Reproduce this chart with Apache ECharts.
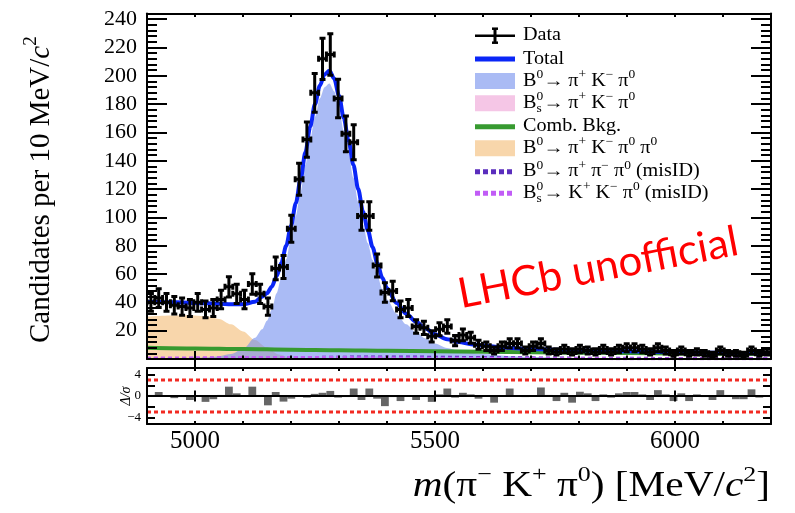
<!DOCTYPE html>
<html>
<head>
<meta charset="utf-8">
<script src="https://cdn.jsdelivr.net/npm/echarts@6/dist/echarts.min.js"></script>
<style>
  html, body { margin: 0; padding: 0; background: #fff; }
  #chart { width: 795px; height: 513px; }
</style>
</head>
<body>
<div id="chart"></div>
<script>
// ---- binning of the mass spectrum ----
const massRange = [4900, 6200];
const BIN_LO = 4900;
const BIN_W = 16.25;

// candidates per bin (80 bins)
const candidates = [
  40, 43, 40, 38, 37, 36, 40, 35, 36, 42,
  51, 46, 42, 53, 46, 37, 64, 65, 92, 127,
  155, 188, 212, 215, 184, 159, 153, 101, 101, 66,
  47, 48, 35, 36, 23, 22, 16, 21, 23, 13,
  17, 15, 10, 9, 6, 9, 11, 11, 6, 9,
  11, 6, 5, 7, 5, 7, 6, 5, 7, 5,
  7, 8, 8, 7, 5, 8, 6, 4, 6, 4,
  5, 4, 3, 6, 4, 4, 3, 6, 4, 5
];

// normalised residuals per bin
const pulls = [
  0.2, 0.75, 0.1, -0.4, -0.2, -0.75, -0.1, -1.1, -0.6, 0.2,
  1.75, 0.5, -0.1, 1.75, 0.2, -1.75, 0.75, -1.05, -0.5, 0.1,
  -0.3, 0.4, 0.6, 0.95, -0.3, -0.2, 1.4, -0.75, 1.4, -0.5,
  -1.9, -0.2, -0.95, 0.1, -0.75, -0.1, -1.1, 0.3, 1.4, -0.3,
  0.6, 0.3, -0.5, -0.1, -1.25, 0.1, 1.4, 0.1, -0.2, 0.1,
  1.6, 0.2, -0.95, 0.6, -1.25, 0.8, 0.5, -0.95, 0.3, -0.3,
  0.5, 0.75, 0.75, 0.3, -0.75, 1.1, 0.3, -0.95, 0.5, -0.95,
  0.3, -0.2, -0.75, 1.1, 0.2, -0.6, -0.6, 1.25, -0.3, 0.1
];

// ---- fit model, sampled along the mass axis ----
const fitMass = [
  4900, 4925, 4950, 4975, 5000, 5025, 5050, 5075, 5100, 5125,
  5140, 5150, 5160, 5170, 5180, 5190, 5200, 5210, 5220, 5230,
  5240, 5250, 5260, 5270, 5280, 5290, 5300, 5310, 5320, 5330,
  5340, 5350, 5360, 5370, 5380, 5390, 5400, 5420, 5440, 5460,
  5480, 5500, 5525, 5550, 5575, 5600, 5650, 5700, 5750, 5800,
  5900, 6000, 6100, 6200
];
const totalFit = [
  40.2, 40.2, 40.1, 39.9, 39.6, 39.3, 39.0, 38.6, 38.6, 40.5,
  44, 46.5, 51, 58.5, 68, 80, 94, 110, 127, 146,
  164, 180, 193, 201, 203.5, 198, 186, 170, 154, 137,
  120, 104, 91, 79, 67.5, 57.5, 50, 39.5, 32, 26.5,
  21.5, 17.5, 14, 12, 10.5, 9.5, 7.9, 7.1, 6.5, 6.0,
  5.4, 4.9, 4.4, 4.0
];
const b0SignalFit = [
  0.3, 0.4, 0.5, 0.6, 0.8, 1.1, 2.0, 3.5, 7, 15,
  21, 27, 35, 46.5, 57.5, 70.5, 85, 101, 118, 137,
  155, 171, 184, 192, 194.5, 189, 177, 161, 145, 128,
  111, 95, 82, 70, 59, 49.5, 42, 32, 24.5, 19,
  14.5, 11, 7.8, 5.8, 4.4, 3.5, 2.2, 1.4, 0.9, 0.6,
  0.3, 0.15, 0.1, 0.05
];

const bsMass = [5280, 5300, 5320, 5340, 5360, 5370, 5380, 5400, 5420, 5440, 5460, 5480];
const bsSignalFit = [0, 0.2, 0.6, 1.3, 1.9, 2.0, 1.9, 1.3, 0.7, 0.3, 0.1, 0];

const prcMass = [4900, 4925, 4950, 4975, 5000, 5025, 5050, 5075, 5100, 5125, 5150, 5175, 5200, 5225, 5250, 5300];
const prcFit = [30, 30.4, 30.7, 30.9, 30.8, 30.2, 28.3, 24.5, 19.5, 13.5, 8, 3.2, 0.9, 0.2, 0, 0];

const bkgMass = [4900, 5000, 5100, 5200, 5300, 5400, 5500, 5600, 5700, 5800, 5900, 6000, 6100, 6200];
const combFit = [8.0, 7.5, 7.05, 6.6, 6.2, 5.8, 5.45, 5.1, 4.8, 4.5, 4.2, 3.95, 3.7, 3.5];
const misPiPiFit = [0.3, 0.4, 0.6, 0.9, 1.3, 1.5, 1.3, 1.0, 0.8, 0.6, 0.5, 0.4, 0.35, 0.3];
const misKKFit = [0.6, 0.8, 1.0, 1.1, 1.0, 0.8, 0.6, 0.45, 0.35, 0.3, 0.25, 0.2, 0.2, 0.15];

// ---- axis ticks ----
const massTicks = [5000, 5500, 6000];
const countTicks = [20, 40, 60, 80, 100, 120, 140, 160, 180, 200, 220, 240];
const pullTicks = [-4, -2, 0, 2, 4];
const pullLabels = [-4, 0, 4];
const pullBands = [3, -3];

// ---- colours ----
const C = {
  total: '#0a26f7',
  b0: 'rgba(113,142,238,0.6)',
  b0Key: '#aabbf4',
  bs: '#f5c6e6',
  comb: '#379a30',
  prc: '#f8d6ab',
  misPiPi: '#5a2dbd',
  misKK: '#c15cf6',
  pull: '#666666',
  band: '#f22a22'
};

const SERIF = '"Liberation Serif", "DejaVu Serif", serif';
const measureCtx = document.createElement('canvas').getContext('2d');
function textWidth(str, size, italic) {
  measureCtx.font = (italic ? 'italic ' : '') + size + 'px ' + SERIF;
  return measureCtx.measureText(str).width;
}

// Lays out a line of text with super/subscripts; returns child elements and width.
function mathRow(tokens, size) {
  const kids = [];
  let x = 0, stackX = null;
  tokens.forEach(([str, kind = 'n']) => {
    const small = kind === 'sup' || kind === 'supS' || kind === 'sub';
    const fs = small ? Math.round(size * 0.64) : size;
    const italic = kind === 'i';
    const dy = (kind === 'sup' || kind === 'supS') ? -size * 0.34 : (kind === 'sub' ? size * 0.3 : 0);
    const x0 = (kind === 'sub' && stackX !== null) ? stackX : x;
    kids.push({
      type: 'text', x: x0, y: dy, silent: true,
      style: {
        text: str, fontSize: fs, fontFamily: SERIF, fontStyle: italic ? 'italic' : 'normal',
        fill: '#000', align: 'left', verticalAlign: 'middle', textAlign: 'left', textVerticalAlign: 'middle'
      }
    });
    const w = textWidth(str, fs, italic);
    if (kind === 'supS') { stackX = x; x += w; }
    else if (kind === 'sub' && stackX !== null) { x = Math.max(x, stackX + w); stackX = null; }
    else x += w;
  });
  return { kids, width: x };
}

// ---- legend ----
const legendRows = [
  { key: 'data', tokens: [['Data']] },
  { key: 'total', tokens: [['Total']] },
  { key: 'b0', tokens: [['B'], ['0', 'sup'], ['→ π'], ['+', 'sup'], [' K'], ['−', 'sup'], [' π'], ['0', 'sup']] },
  { key: 'bs', tokens: [['B'], ['0', 'supS'], ['s', 'sub'], ['→ π'], ['+', 'sup'], [' K'], ['−', 'sup'], [' π'], ['0', 'sup']] },
  { key: 'comb', tokens: [['Comb. Bkg.']] },
  { key: 'prc', tokens: [['B'], ['0', 'sup'], ['→ π'], ['+', 'sup'], [' K'], ['−', 'sup'], [' π'], ['0', 'sup'], [' π'], ['0', 'sup']] },
  { key: 'misPiPi', tokens: [['B'], ['0', 'sup'], ['→ π'], ['+', 'sup'], [' π'], ['−', 'sup'], [' π'], ['0', 'sup'], [' (misID)']] },
  { key: 'misKK', tokens: [['B'], ['0', 'supS'], ['s', 'sub'], ['→ K'], ['+', 'sup'], [' K'], ['−', 'sup'], [' π'], ['0', 'sup'], [' (misID)']] }
];

function legendIcon(key, y) {
  const x0 = 475, x1 = 515, xm = 495;
  const line = (stroke, w, dash) => ({
    type: 'line', shape: { x1: x0, y1: y, x2: x1, y2: y },
    style: { stroke, lineWidth: w, lineDash: dash || null }
  });
  const box = fill => ({ type: 'rect', shape: { x: x0, y: y - 8, width: x1 - x0, height: 16 }, style: { fill } });
  switch (key) {
    case 'data': return [
      line('#000', 2.5),
      { type: 'line', shape: { x1: xm, y1: y - 7, x2: xm, y2: y + 7 }, style: { stroke: '#000', lineWidth: 3 } },
      { type: 'line', shape: { x1: xm - 3, y1: y - 7, x2: xm + 3, y2: y - 7 }, style: { stroke: '#000', lineWidth: 2.5 } },
      { type: 'line', shape: { x1: xm - 3, y1: y + 7, x2: xm + 3, y2: y + 7 }, style: { stroke: '#000', lineWidth: 2.5 } }
    ];
    case 'total': return [line(C.total, 5)];
    case 'b0': return [box(C.b0Key)];
    case 'bs': return [box(C.bs)];
    case 'comb': return [line(C.comb, 5)];
    case 'prc': return [box(C.prc)];
    case 'misPiPi': return [line(C.misPiPi, 5, [5, 3])];
    case 'misKK': return [line(C.misKK, 5, [5, 3])];
  }
  return [];
}

const legendY = [35.7, 59, 81, 103.3, 126.7, 148.3, 171.7, 193.3];
const graphics = [];
legendRows.forEach((row, i) => {
  const y = legendY[i];
  legendIcon(row.key, y).forEach(el => graphics.push(Object.assign({ silent: true, z: 100 }, el)));
  const t = mathRow(row.tokens, 18);
  graphics.push({ type: 'group', x: 523, y: y, scaleX: 1.12, z: 100, children: t.kids });
});

// axis titles
const yTitle = mathRow([['Candidates per 10 MeV/'], ['c', 'i'], ['2', 'sup']], 29);
graphics.push({ type: 'group', x: 41, y: 343, rotation: Math.PI / 2, z: 100, children: yTitle.kids });

const xTitle = mathRow([['m', 'i'], ['('], ['π'], ['−', 'sup'], [' K'], ['+', 'sup'], [' π'], ['0', 'sup'], [') [MeV/'], ['c', 'i'], ['2', 'sup'], [']']], 35);
const xTitleScale = 1.18;
graphics.push({ type: 'group', x: 770 - xTitle.width * xTitleScale, y: 487, scaleX: xTitleScale, z: 100, children: xTitle.kids });

const pullTitle = mathRow([['Δ/σ', 'i']], 14);
graphics.push({ type: 'group', x: 126, y: 396 + pullTitle.width / 2, rotation: Math.PI / 2, z: 100, children: pullTitle.kids });

graphics.push({
  type: 'text', x: 598, y: 268, rotation: 0.19, z: 120, silent: true,
  style: {
    text: 'LHCb unofficial', fontSize: 42, fontFamily: 'Lato, "Open Sans", sans-serif',
    fill: '#ff0000', align: 'center', verticalAlign: 'middle', textAlign: 'center', textVerticalAlign: 'middle'
  }
});

// ---- axes ----
const tickStyle = { color: '#000', width: 2 };
function massAxis(grid, position, extra) {
  return Object.assign({
    type: 'value', gridIndex: grid, position, min: massRange[0], max: massRange[1], interval: 100, z: 10,
    axisLine: { show: false }, splitLine: { show: false }, axisLabel: { show: false },
    axisTick: { show: true, inside: true, length: 3.5, lineStyle: tickStyle }
  }, extra);
}
const frameLine = { show: true, onZero: false, lineStyle: { color: '#000', width: 2 } };

const xAxes = [
  massAxis(0, 'bottom', { axisLine: frameLine }),
  massAxis(0, 'bottom', { axisTick: { show: true, inside: true, length: 8, customValues: massTicks, lineStyle: tickStyle } }),
  massAxis(0, 'top', { axisLine: frameLine }),
  massAxis(0, 'top', { axisTick: { show: true, inside: true, length: 8, customValues: massTicks, lineStyle: tickStyle } }),
  massAxis(1, 'bottom', {
    axisLine: frameLine, axisTick: { show: true, inside: true, length: 3, lineStyle: tickStyle },
    axisLabel: {
      show: true, customValues: massTicks, fontSize: 25, fontFamily: SERIF, color: '#000', margin: 5,
      formatter: v => String(v)
    }
  }),
  massAxis(1, 'bottom', { axisTick: { show: true, inside: true, length: 5.5, customValues: massTicks, lineStyle: tickStyle } }),
  massAxis(1, 'top', { axisLine: frameLine, axisTick: { show: true, inside: true, length: 3, lineStyle: tickStyle } }),
  massAxis(1, 'top', { axisTick: { show: true, inside: true, length: 5.5, customValues: massTicks, lineStyle: tickStyle } })
];

function countAxis(position, withLabels) {
  return {
    type: 'value', gridIndex: 0, position, min: 0, max: 244, interval: 20, z: 10,
    axisLine: frameLine, splitLine: { show: false },
    axisTick: { show: true, inside: true, length: 20, lineStyle: tickStyle },
    minorTick: { show: true, splitNumber: 5, length: 10, lineStyle: tickStyle },
    axisLabel: {
      show: withLabels, margin: 10, fontSize: 22, fontFamily: SERIF, color: '#000',
      formatter: v => countTicks.includes(v) ? String(v) : ''
    }
  };
}
function pullAxis(position, withLabels) {
  return {
    type: 'value', gridIndex: 1, position, min: -5.25, max: 5.25, z: 10,
    axisLine: frameLine, splitLine: { show: false },
    axisTick: { show: true, inside: true, length: 8, customValues: pullTicks, lineStyle: tickStyle },
    axisLabel: {
      show: withLabels, customValues: pullLabels, margin: 6, fontSize: 13, fontFamily: SERIF, color: '#000',
      formatter: v => (v < 0 ? '−' + Math.abs(v) : String(v))
    }
  };
}
const yAxes = [countAxis('left', true), countAxis('right', false), pullAxis('left', true), pullAxis('right', false)];

// ---- series ----
const pairs = (xs, ys) => xs.map((x, i) => [x, ys[i]]);
const curve = (name, xs, ys, extra) => Object.assign({
  type: 'line', name, xAxisIndex: 0, yAxisIndex: 0, data: pairs(xs, ys),
  showSymbol: false, symbol: 'none', smooth: 0.3, smoothMonotone: 'x', silent: true
}, extra);

const binEdges = i => [BIN_LO + i * BIN_W, BIN_LO + (i + 1) * BIN_W];

const series = [
  curve('B0 → π+ K− π0 π0', prcMass, prcFit, { lineStyle: { width: 0 }, areaStyle: { color: C.prc, opacity: 1, origin: 'start' }, z: 2 }),
  curve('Bs0 → π+ K− π0', bsMass, bsSignalFit, { lineStyle: { width: 0 }, areaStyle: { color: C.bs, opacity: 1, origin: 'start' }, z: 2 }),
  curve('Comb. Bkg.', bkgMass, combFit, { lineStyle: { width: 4, color: C.comb }, z: 2 }),
  curve('B0 → π+ K− π0', fitMass, b0SignalFit, { lineStyle: { width: 0 }, areaStyle: { color: C.b0, opacity: 1, origin: 'start' }, z: 2 }),
  curve('B0 → π+ π− π0 (misID)', bkgMass, misPiPiFit, { lineStyle: { width: 3, color: C.misPiPi, type: [4, 3] }, z: 3 }),
  curve('Bs0 → K+ K− π0 (misID)', bkgMass, misKKFit, { lineStyle: { width: 3, color: C.misKK, type: [4, 3] }, z: 3 }),
  curve('Total', fitMass, totalFit, { lineStyle: { width: 4, color: C.total }, z: 4 }),
  {
    type: 'custom', name: 'Data', xAxisIndex: 0, yAxisIndex: 0, clip: true, silent: true, z: 5,
    data: candidates.map((n, i) => { const e = binEdges(i); return [e[0], e[1], n, Math.sqrt(n)]; }),
    renderItem(params, api) {
      const lo = api.value(0), hi = api.value(1), n = api.value(2), err = api.value(3);
      const mid = (lo + hi) / 2;
      const l = api.coord([lo, n]), r = api.coord([hi, n]);
      const t = api.coord([mid, n + err]), b = api.coord([mid, n - err]);
      const st = { stroke: '#000', lineWidth: 3 };
      const seg = (x1, y1, x2, y2) => ({ type: 'line', shape: { x1, y1, x2, y2 }, style: st });
      const cap = 3;
      return {
        type: 'group', children: [
          seg(l[0], l[1], r[0], r[1]),
          seg(t[0], t[1], b[0], b[1]),
          seg(t[0] - cap, t[1], t[0] + cap, t[1]),
          seg(b[0] - cap, b[1], b[0] + cap, b[1]),
          seg(l[0], l[1] - cap, l[0], l[1] + cap),
          seg(r[0], r[1] - cap, r[0], r[1] + cap)
        ]
      };
    }
  },
  {
    type: 'custom', name: 'pull', xAxisIndex: 4, yAxisIndex: 2, clip: true, silent: true, z: 2,
    data: pulls.map((p, i) => { const e = binEdges(i); return [e[0], e[1], p]; }),
    renderItem(params, api) {
      const a = api.coord([api.value(0), 0]);
      const b = api.coord([api.value(1), api.value(2)]);
      return {
        type: 'rect',
        shape: { x: a[0], y: Math.min(a[1], b[1]), width: b[0] - a[0], height: Math.abs(b[1] - a[1]) },
        style: { fill: C.pull }
      };
    }
  },
  {
    type: 'line', name: 'zero', xAxisIndex: 4, yAxisIndex: 2, silent: true, z: 3, showSymbol: false, symbol: 'none',
    data: [[massRange[0], 0], [massRange[1], 0]], lineStyle: { color: '#000', width: 2 }
  }
].concat(pullBands.map(v => ({
  type: 'line', name: 'band' + v, xAxisIndex: 4, yAxisIndex: 2, silent: true, z: 3, showSymbol: false, symbol: 'none',
  data: [[massRange[0], v], [massRange[1], v]], lineStyle: { color: C.band, width: 3, type: [4, 3] }
})));

const chart = echarts.init(document.getElementById('chart'), null, { renderer: 'canvas' });
chart.setOption({
  animation: false,
  backgroundColor: '#fff',
  grid: [
    { left: 147, right: 24, top: 13.5, height: 345.5, show: false },
    { left: 147, right: 24, top: 368, height: 56, show: false }
  ],
  xAxis: xAxes,
  yAxis: yAxes,
  series,
  graphic: { elements: graphics }
});
</script>
</body>
</html>
